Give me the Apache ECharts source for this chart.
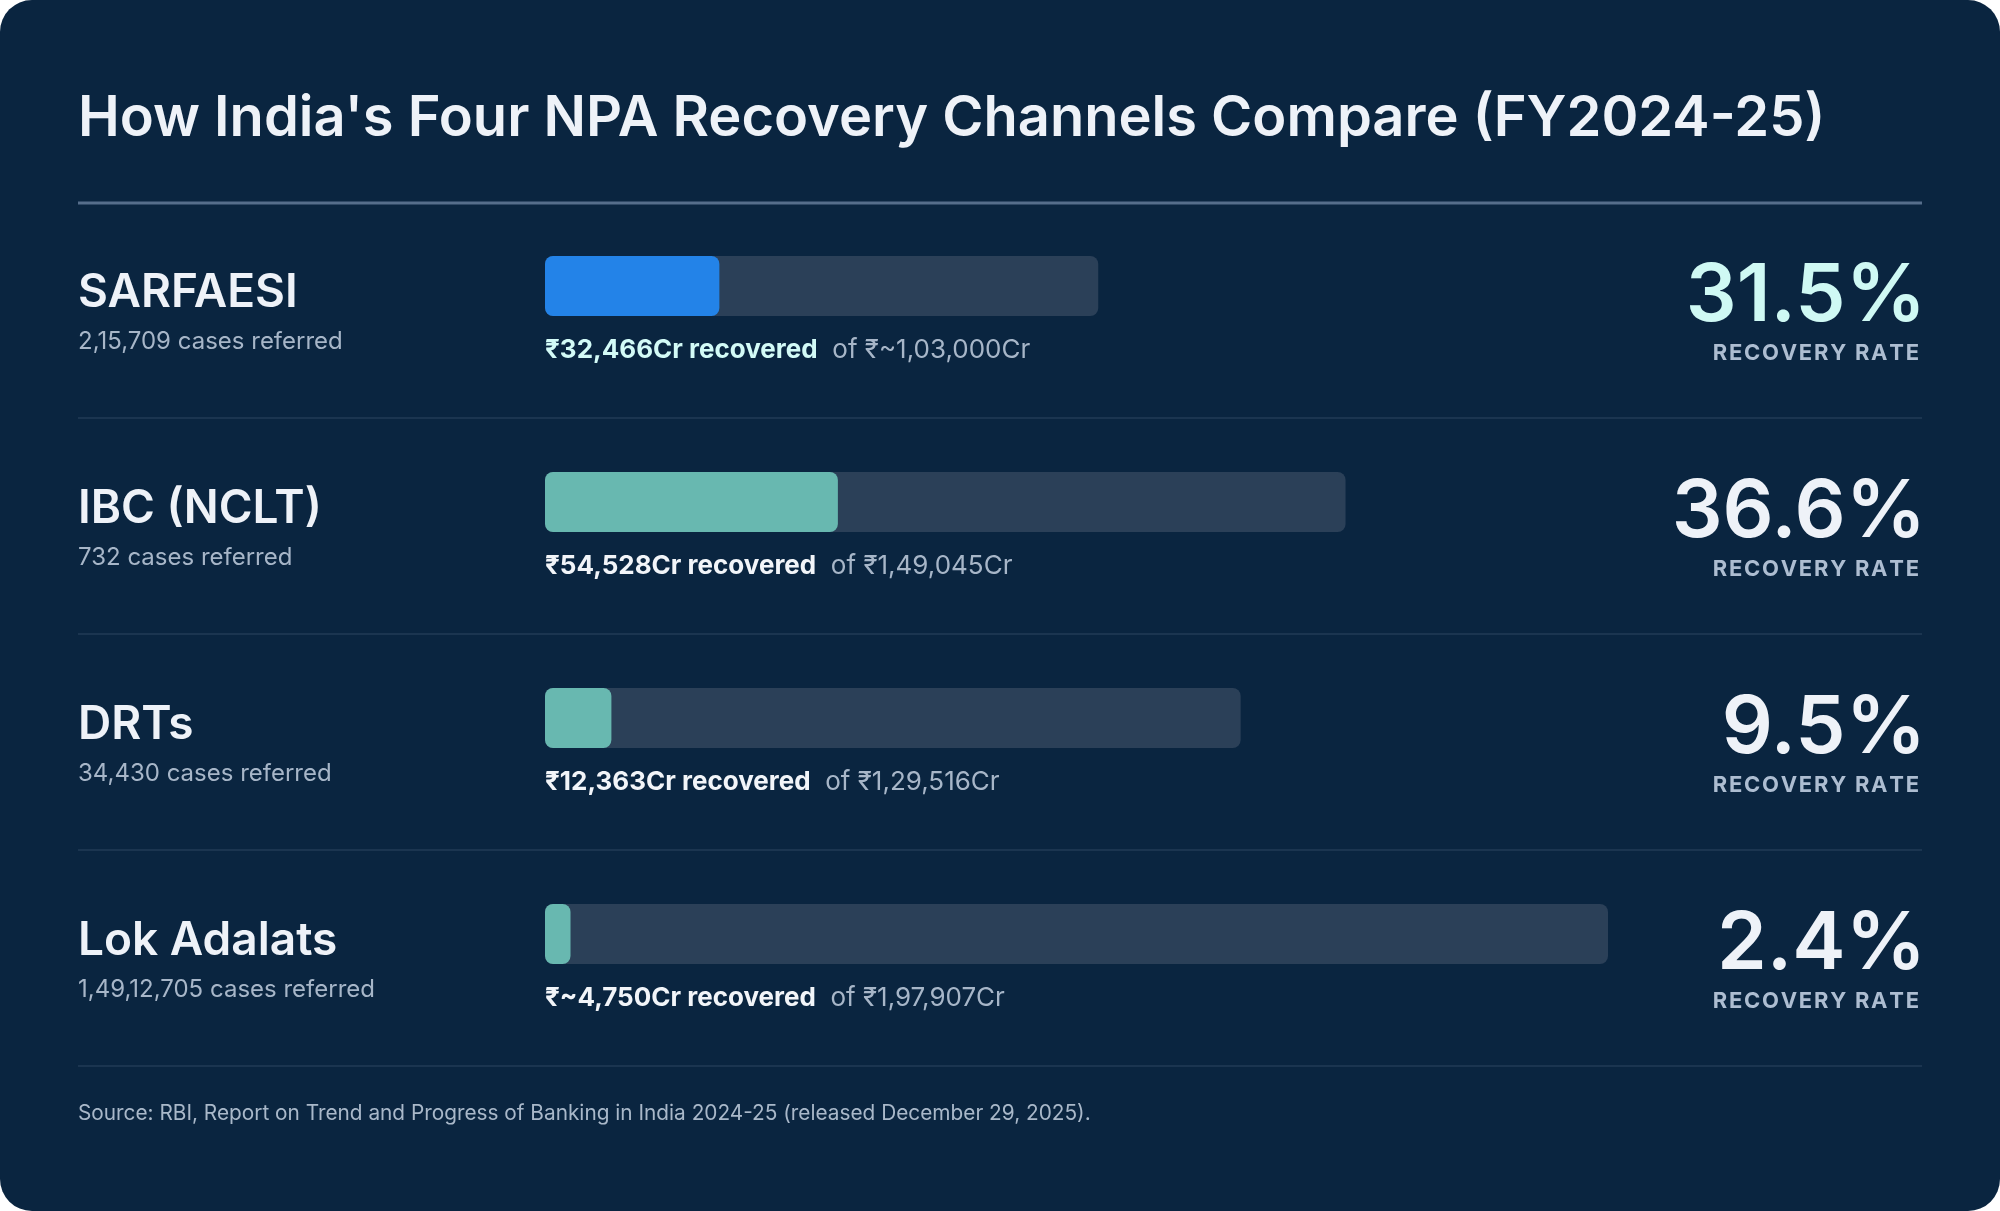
<!DOCTYPE html>
<html>
<head>
<meta charset="utf-8">
<script src="https://cdn.jsdelivr.net/npm/echarts@6/dist/echarts.min.js"></script>
<style>
html,body{margin:0;padding:0;background:#ffffff;}
#chart{width:2000px;height:1211px;}
</style>
</head>
<body>
<div id="chart"></div>
<script>
const categories = ['SARFAESI', 'IBC (NCLT)', 'DRTs', 'Lok Adalats'];
const casesReferred = ['2,15,709', '732', '34,430', '1,49,12,705'];
const recovered = [32466, 54528, 12363, 4750];
const totalReferred = [103000, 149045, 129516, 197907];
const recoveredLabels = ['₹32,466Cr', '₹54,528Cr', '₹12,363Cr', '₹~4,750Cr'];
const totalLabels = ['₹~1,03,000Cr', '₹1,49,045Cr', '₹1,29,516Cr', '₹1,97,907Cr'];
const recoveryRates = ['31.5%', '36.6%', '9.5%', '2.4%'];
const fillColors = ['#2383e8', '#68b8b0', '#68b8b0', '#68b8b0'];

const FONT = 'Inter, "Noto Sans", sans-serif';
const spaced = s => s.split('').join('\u200A');

const chart = echarts.init(document.getElementById('chart'), null, {renderer: 'canvas'});

const option = {
  backgroundColor: '#ffffff',
  animation: false,
  title: [
    {
      text: "How India's Four NPA Recovery Channels Compare (FY2024-25)",
      left: 78, top: 91, padding: 0,
      textStyle: {color: '#eef2f8', fontSize: 56, fontWeight: 600, fontFamily: FONT}
    },
    {
      text: 'Source: RBI, Report on Trend and Progress of Banking in India 2024-25 (released December 29, 2025).',
      left: 78, top: 1103, padding: 0,
      textStyle: {color: '#a9b8c9', fontSize: 20.8, fontWeight: 400, fontFamily: FONT}
    }
  ],
  graphic: [
    {type: 'rect', z: -10, silent: true, shape: {x: 0, y: 0, width: 2000, height: 1211, r: 32}, style: {fill: '#0a2540'}},
    {type: 'line', z: -5, silent: true, shape: {x1: 78, y1: 203, x2: 1922, y2: 203}, style: {stroke: '#566e8b', lineWidth: 3}},
    {type: 'line', z: -5, silent: true, shape: {x1: 78, y1: 418, x2: 1922, y2: 418}, style: {stroke: '#223b56', lineWidth: 1.5}},
    {type: 'line', z: -5, silent: true, shape: {x1: 78, y1: 634, x2: 1922, y2: 634}, style: {stroke: '#223b56', lineWidth: 1.5}},
    {type: 'line', z: -5, silent: true, shape: {x1: 78, y1: 850, x2: 1922, y2: 850}, style: {stroke: '#223b56', lineWidth: 1.5}},
    {type: 'line', z: -5, silent: true, shape: {x1: 78, y1: 1066, x2: 1922, y2: 1066}, style: {stroke: '#223b56', lineWidth: 1.5}}
  ],
  grid: {left: 545, top: 178, width: 1063, height: 864, containLabel: false},
  xAxis: {
    type: 'value', min: 0, max: 197907,
    show: false
  },
  yAxis: [
    {
      type: 'category', data: categories, inverse: true,
      axisLine: {show: false}, axisTick: {show: false}, splitLine: {show: false},
      axisLabel: {
        align: 'left', margin: 467, padding: [60, 0, 0, 0],
        formatter: (v, i) => '{n|' + v + '}\n{s|' + casesReferred[i] + ' cases referred}',
        rich: {
          n: {fontSize: 46, fontWeight: 600, color: '#eef2f8', fontFamily: FONT, lineHeight: 52},
          s: {fontSize: 24, fontWeight: 400, color: '#a7b6c8', fontFamily: FONT, lineHeight: 46}
        }
      }
    },
    {
      type: 'category', data: categories, inverse: true, position: 'right',
      axisLine: {show: false}, axisTick: {show: false}, splitLine: {show: false},
      axisLabel: {
        align: 'right', margin: 318, padding: [55, 0, 0, 0],
        formatter: (v, i) => '{' + (i === 0 ? 'pc' : 'p') + '|' + recoveryRates[i] + '}\n{r|' + spaced('RECOVERY RATE') + '}',
        rich: {
          p: {fontSize: 80, fontWeight: 600, color: '#eef2f8', fontFamily: FONT, lineHeight: 80, align: 'right'},
          pc: {fontSize: 80, fontWeight: 600, color: '#cff9f4', fontFamily: FONT, lineHeight: 80, align: 'right'},
          r: {fontSize: 22, fontWeight: 700, color: '#adbdd1', fontFamily: FONT, lineHeight: 34, align: 'right', padding: [0, 7, 0, 0]}
        }
      }
    }
  ],
  series: [
    {
      name: 'Referred', type: 'bar', data: totalReferred, barWidth: 60, silent: true,
      itemStyle: {color: '#2b4058', borderRadius: 8},
      label: {
        show: true, position: [0, 81], align: 'left', verticalAlign: 'top',
        formatter: p => '{' + (p.dataIndex === 0 ? 'bc' : 'b') + '|' + recoveredLabels[p.dataIndex] + ' recovered}{g|  of ' + totalLabels[p.dataIndex] + '}',
        rich: {
          b: {fontSize: 26, fontWeight: 700, color: '#f2f5f9', fontFamily: FONT},
          bc: {fontSize: 26, fontWeight: 700, color: '#d3fbf7', fontFamily: FONT},
          g: {fontSize: 26, fontWeight: 400, color: '#a7b6c8', fontFamily: FONT}
        }
      },
      z: 2
    },
    {
      name: 'Recovered', type: 'bar', data: recovered.map((v, i) => ({value: v, itemStyle: {color: fillColors[i]}})),
      barWidth: 60, barGap: '-100%', silent: true,
      itemStyle: {borderRadius: 8},
      z: 3
    }
  ]
};
chart.setOption(option);
</script>
</body>
</html>
